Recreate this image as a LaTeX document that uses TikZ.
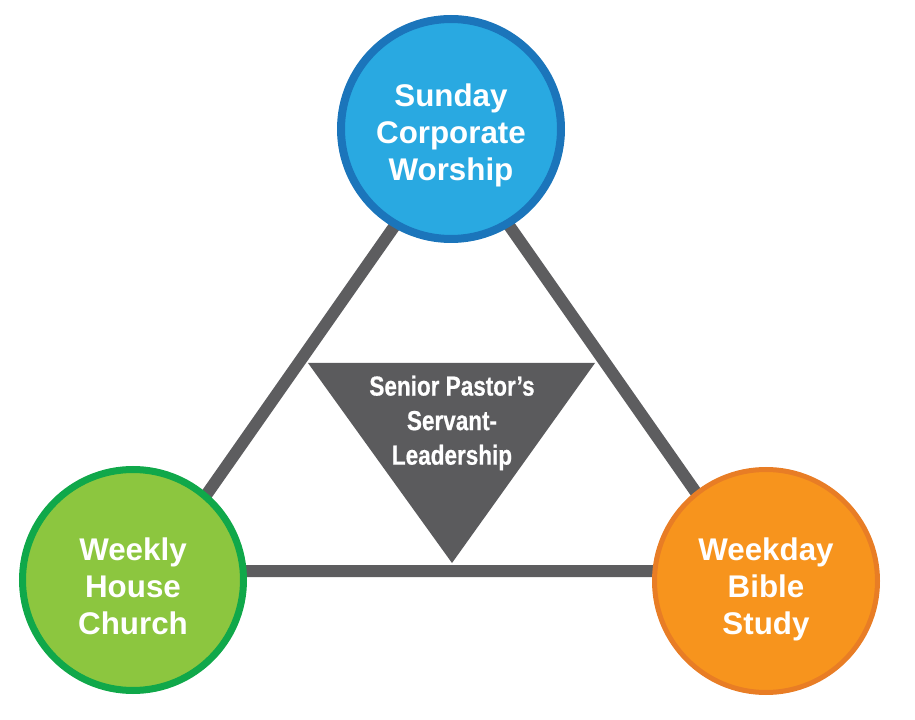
\documentclass[tikz,border=0pt]{standalone}
\usepackage{fontspec}
\setmainfont{Liberation Sans}
\newfontfamily\condfont[FakeStretch=0.82, BoldFont={Liberation Sans Bold}, BoldFeatures={FakeStretch=0.82, FakeBold=0.6}]{Liberation Sans}
\definecolor{linegray}{HTML}{5D5D5F}
\definecolor{trigray}{HTML}{5B5B5D}
\definecolor{bluefill}{HTML}{29A9E1}
\definecolor{blueedge}{HTML}{1B75BB}
\definecolor{greenfill}{HTML}{8CC63F}
\definecolor{greenedge}{HTML}{10A84A}
\definecolor{orangefill}{HTML}{F7941D}
\definecolor{orangeedge}{HTML}{E87D25}
\tikzset{
  bubble/.style={circle, inner sep=0pt},
  bubbletext/.style={align=center, text=white, inner sep=0pt,
    font=\fontsize{23.5pt}{27.8pt}\selectfont\bfseries},
  connector/.style={draw=linegray, line width=9pt, line join=miter},
  centretext/.style={align=center, text=white, inner sep=0pt,
    font=\condfont\bfseries\fontsize{20.6pt}{25.9pt}\selectfont}
}
\begin{document}
\begin{tikzpicture}[x=0.75pt, y=-0.75pt]
\useasboundingbox (0,0) rectangle (915,720);
% triangle corners
\coordinate (tA) at (452,144);
\coordinate (tL) at (153,571);
\coordinate (tR) at (751,571);
\draw[connector] (tA) -- (tL) -- (tR) -- cycle;
% inverted triangle
\coordinate (iL) at (308,363);
\coordinate (iR) at (595,363);
\coordinate (iB) at (452,563);
\fill[trigray] (iL) -- (iR) -- (iB) -- cycle;
\node[centretext] (lead) at (452,423) {Senior Pastor’s\\Servant-\\Leadership};
% circles
\node[bubble, fill=bluefill, draw=blueedge, line width=6pt, minimum size=165pt] (sun) at (451,129) {};
\node[bubble, fill=greenfill, draw=greenedge, line width=5.25pt, minimum size=165.75pt] (house) at (133,580) {};
\node[bubble, fill=orangefill, draw=orangeedge, line width=3.75pt, minimum size=167.25pt] (bible) at (766,581) {};
\node[bubbletext] (sun-t) at ([yshift=-5pt]sun.center) {Sunday\\Corporate\\Worship};
\node[bubbletext] (house-t) at ([yshift=-5pt]house.center) {Weekly\\House\\Church};
\node[bubbletext] (bible-t) at ([yshift=-6.5pt]bible.center) {Weekday\\Bible\\Study};
\end{tikzpicture}
\end{document}
